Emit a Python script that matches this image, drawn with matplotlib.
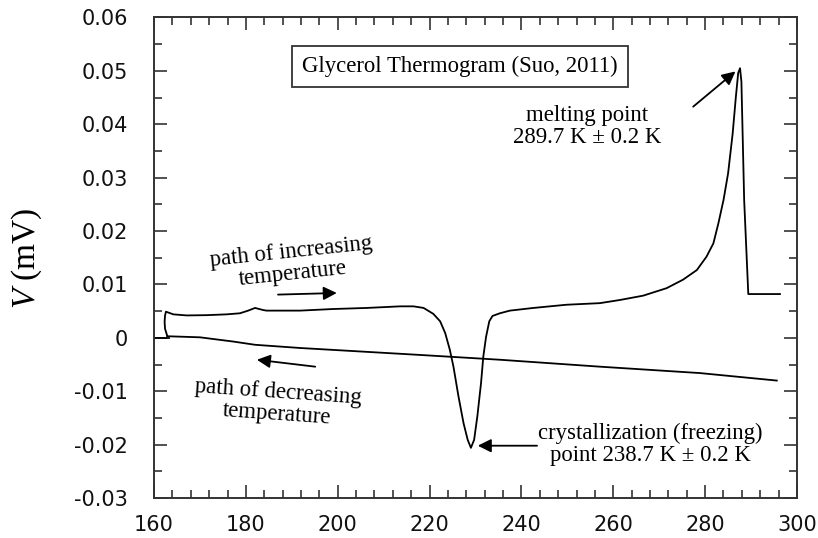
import matplotlib
matplotlib.use("Agg")
import matplotlib.pyplot as plt
from matplotlib.ticker import MultipleLocator, FixedLocator, FixedFormatter

plt.rcParams["mathtext.fontset"] = "custom"
plt.rcParams["mathtext.it"] = "Liberation Serif:italic"
plt.rcParams["mathtext.rm"] = "Liberation Serif"

# ---- data ----
upper_T = [162.9, 162.4, 162.3, 162.4, 162.6, 164.2, 167.1, 171.5, 175.8, 178.7,
           180.5, 182.0, 183.8, 184.5, 191.8, 199.0, 206.3, 213.6, 216.5, 218.7,
           220.8, 222.3, 223.4, 224.4, 225.2, 226.3, 227.4, 228.3, 229.0, 229.7,
           230.4, 231.2, 231.7, 232.3, 233.0, 233.7, 235.3, 237.5, 242.6, 249.8,
           257.1, 261.5, 266.5, 271.6, 275.2, 278.2, 280.3, 281.8, 282.9, 284.0,
           285.0, 286.0, 286.7, 287.2, 287.6, 287.9, 288.5, 289.4, 296.3]
upper_V = [0.0003, 0.0017, 0.0030, 0.0042, 0.0049, 0.0044, 0.0042, 0.00425, 0.0044, 0.0046,
           0.0051, 0.0056, 0.0052, 0.0051, 0.0051, 0.0054, 0.0056, 0.0059, 0.0059, 0.0056,
           0.0045, 0.0031, 0.0009, -0.0022, -0.0054, -0.0110, -0.0160, -0.0191, -0.0206, -0.0191,
           -0.0147, -0.0085, -0.0035, 0.0002, 0.0031, 0.0041, 0.0046, 0.0051, 0.0056, 0.0062,
           0.0065, 0.0071, 0.0079, 0.0093, 0.0109, 0.0127, 0.0152, 0.0177, 0.0215, 0.0258,
           0.0308, 0.0383, 0.0452, 0.0496, 0.0505, 0.0480, 0.0258, 0.0082, 0.0082]

lower_T = [162.9, 170.0, 177.3, 182.0, 191.8, 217.9, 235.3, 257.1, 278.9, 295.6]
lower_V = [0.0003, 0.0001, -0.0007, -0.0013, -0.0019, -0.0032, -0.0041, -0.0054, -0.0066, -0.0080]

stub_T = [160.0, 163.2]
stub_V = [0.0, 0.0]

x_ticks = [160, 180, 200, 220, 240, 260, 280, 300]
x_labels = ["160", "180", "200", "220", "240", "260", "280", "300"]
y_ticks = [-0.03, -0.02, -0.01, 0.0, 0.01, 0.02, 0.03, 0.04, 0.05, 0.06]
y_labels = ["-0.03", "-0.02", "-0.01", "0", "0.01", "0.02", "0.03", "0.04", "0.05", "0.06"]

title_text = "Glycerol Thermogram (Suo, 2011)"
melt_text = "melting point\n289.7 K \u00b1 0.2 K"
cryst_text = "crystallization (freezing)\npoint 238.7 K \u00b1 0.2 K"
inc_text = "path of increasing\ntemperature"
dec_text = "path of decreasing\ntemperature"
ylabel_text = r"$V$ (mV)"

# ---- figure ----
fig = plt.figure(figsize=(8.18, 5.38), dpi=100)
ax = fig.add_axes([0.1883, 0.0743, 0.7860, 0.8932])

lc = "black"
ax.plot(upper_T, upper_V, color=lc, lw=1.3, solid_joinstyle="round")
ax.plot(lower_T, lower_V, color=lc, lw=1.3)
ax.plot(stub_T, stub_V, color=lc, lw=1.3)

ax.set_xlim(160, 300)
ax.set_ylim(-0.03, 0.06)

ax.xaxis.set_major_locator(FixedLocator(x_ticks))
ax.xaxis.set_major_formatter(FixedFormatter(x_labels))
ax.xaxis.set_minor_locator(MultipleLocator(4))
ax.yaxis.set_major_locator(FixedLocator(y_ticks))
ax.yaxis.set_major_formatter(FixedFormatter(y_labels))
ax.yaxis.set_minor_locator(MultipleLocator(0.005))

spc = "#333333"
for s in ax.spines.values():
    s.set_color(spc)
    s.set_linewidth(1.4)

ax.tick_params(which="both", direction="in", top=True, right=True, color=spc, width=1.2)
ax.tick_params(which="major", length=9.5)
ax.tick_params(which="minor", length=5.5)
ax.tick_params(axis="y", which="major", pad=18.5, labelsize=15)
ax.tick_params(axis="x", which="major", pad=12, labelsize=15)
for lab in ax.get_xticklabels() + ax.get_yticklabels():
    lab.set_family("DejaVu Sans")
    lab.set_color("#111111")

ax.set_ylabel(ylabel_text, fontsize=24, family="Liberation Serif", labelpad=22)

serif = "Liberation Serif"
fs = 16.4
ls = 1.05
ax.text(226.6, 0.0508, title_text, fontsize=fs, family=serif, ha="center", va="center",
        bbox=dict(boxstyle="square,pad=0.45", fc="white", ec=spc, lw=1.3))

ax.text(254.3, 0.0396, melt_text, fontsize=fs, family=serif, ha="center", va="center",
        linespacing=ls)
ax.annotate("", xy=(286.6, 0.0499), xytext=(277.4, 0.0433),
            arrowprops=dict(arrowstyle="-|>", color="black", lw=1.3, mutation_scale=20,
                            shrinkA=0, shrinkB=0))

ax.text(268.0, -0.0200, cryst_text, fontsize=fs, family=serif, ha="center", va="center",
        linespacing=ls)
ax.annotate("", xy=(230.5, -0.0202), xytext=(243.4, -0.0202),
            arrowprops=dict(arrowstyle="-|>", color="black", lw=1.3, mutation_scale=20,
                            shrinkA=0, shrinkB=0))

ax.text(190.0, 0.0141, inc_text, fontsize=fs, family=serif, ha="center", va="center",
        rotation=6, linespacing=ls, rotation_mode="anchor")
ax.annotate("", xy=(199.8, 0.0084), xytext=(187.0, 0.0081),
            arrowprops=dict(arrowstyle="-|>", color="black", lw=1.3, mutation_scale=20,
                            shrinkA=0, shrinkB=0))

ax.text(186.8, -0.0122, dec_text, fontsize=fs, family=serif, ha="center", va="center",
        rotation=-4, linespacing=ls, rotation_mode="anchor")
ax.annotate("", xy=(182.4, -0.0041), xytext=(195.1, -0.0054),
            arrowprops=dict(arrowstyle="-|>", color="black", lw=1.3, mutation_scale=20,
                            shrinkA=0, shrinkB=0))

fig.savefig("out.png", dpi=100)
